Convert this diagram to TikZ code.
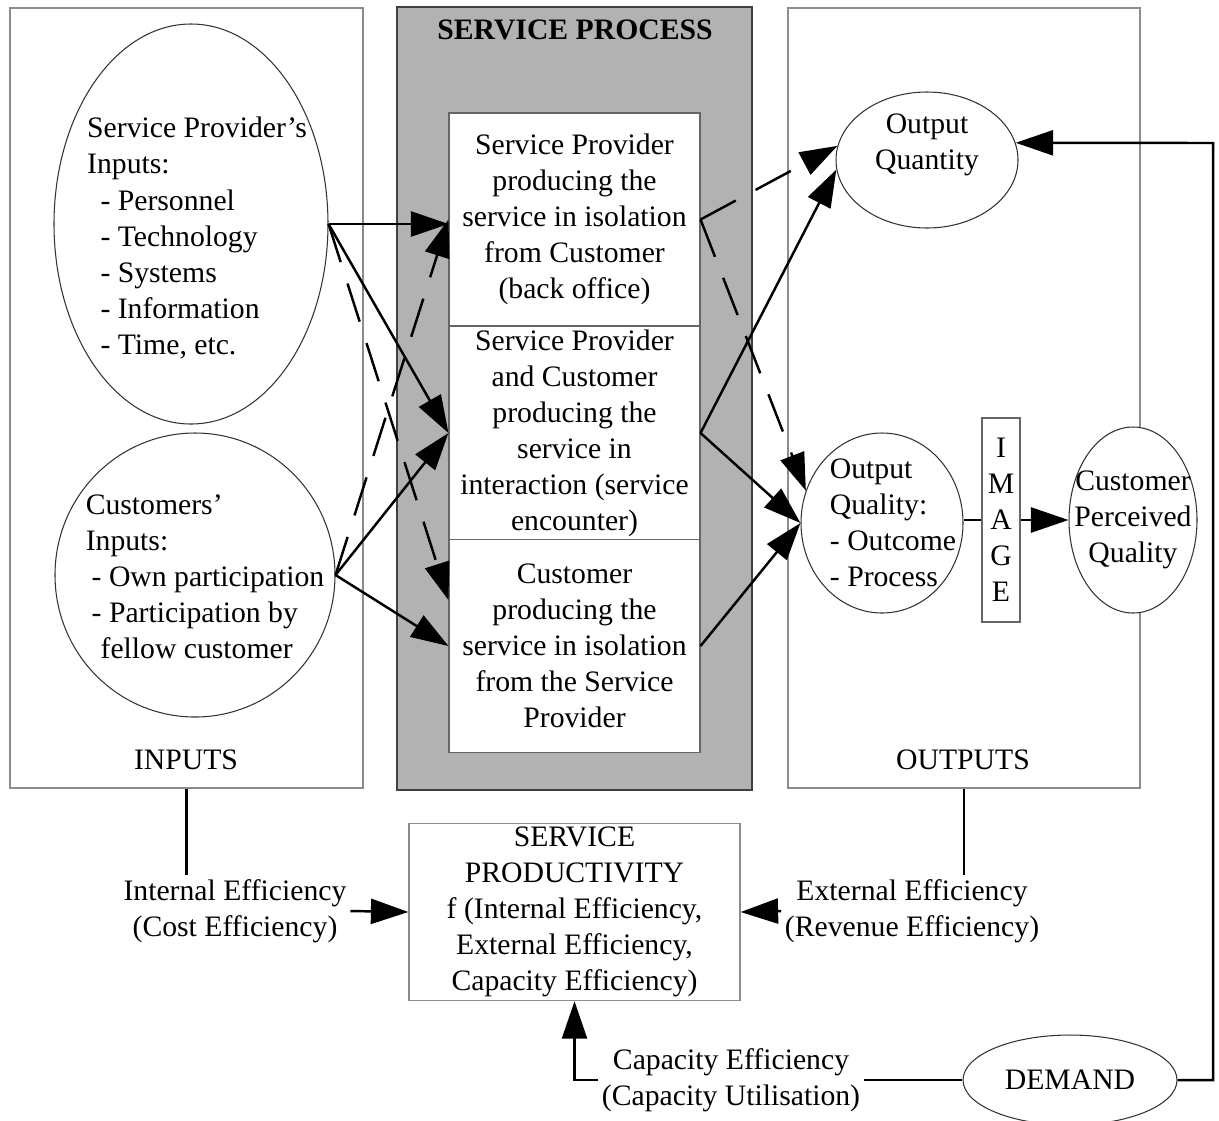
\documentclass[tikz,border=0pt]{standalone}
\usepackage{fontspec}
\setmainfont{Liberation Serif}
\usetikzlibrary{arrows.meta}
\usetikzlibrary{shapes.geometric}
\usetikzlibrary{calc}

\begin{document}
\begin{tikzpicture}[x=0.02cm, y=-0.02cm,
  every node/.style={font=\fontsize{16.9}{20.5}\selectfont, inner sep=2pt},
  panel/.style={draw=black!45, line width=.6pt},
  procbox/.style={draw=black!75, fill=black!30, line width=1.3pt},
  stagebox/.style={draw=black!60, fill=white, line width=.6pt, align=center,
    minimum width=251*0.02cm, minimum height=213*0.02cm},
  oval/.style={ellipse, draw=black!80, fill=white, line width=.6pt, inner sep=0pt},
  flow/.style={line width=1.4pt, -{Triangle[length=0.75cm,width=0.5cm]}},
  dflow/.style={flow, dash pattern=on 0.8cm off 0.45cm},
  link/.style={line width=1.4pt}]
\useasboundingbox (0,0) rectangle (1219,1120);
\node[panel, minimum width=353*0.02cm, minimum height=780*0.02cm] (inpanel) at (186.5,398) {};
\node[panel, minimum width=352*0.02cm, minimum height=780*0.02cm] (outpanel) at (964,398) {};
\node[procbox, minimum width=355*0.02cm, minimum height=783*0.02cm] (proc) at (574.5,398.5) {};
\node (intitle) at (186,760) {INPUTS};
\node (outtitle) at (963,760) {OUTPUTS};
\node[font=\fontsize{16.9}{20.5}\selectfont\bfseries] (proctitle) at (575,30) {SERVICE PROCESS};
\foreach \n/\y/\t in {s1/219.5/{Service Provider\\producing the\\service in isolation\\from Customer\\(back office)},
  s2/433/{Service Provider\\and Customer\\producing the\\service in\\interaction (service\\encounter)},
  s3/646/{Customer\\producing the\\service in isolation\\from the Service\\Provider}}
  \node[stagebox] (\n) at (574.5,\y) {\t};
\node[oval, minimum width=274*0.02cm, minimum height=400*0.02cm] (spin) at (191,224) {};
\node[align=left] (sptext) at (197,238) {Service Provider’s\\Inputs:\\\hspace*{.45em}- Personnel\\\hspace*{.45em}- Technology\\\hspace*{.45em}- Systems\\\hspace*{.45em}- Information\\\hspace*{.45em}- Time, etc.};
\node[oval, minimum width=280*0.02cm, minimum height=284*0.02cm] (cin) at (195,575) {};
\node[align=left] (ctext) at (205,577) {Customers’\\Inputs:\\\hspace*{.2em}- Own participation\\\hspace*{.2em}- Participation by\\\hspace*{.5em}fellow customer};
\node[oval, minimum width=182*0.02cm, minimum height=136*0.02cm] (oqty) at (927,160) {};
\node[align=center] (oqtytext) at (927,145) {Output\\Quantity};
\node[oval, minimum width=162*0.02cm, minimum height=180*0.02cm] (oql) at (882,523) {};
\node[align=left] (oqltext) at (893,523) {Output\\Quality:\\- Outcome\\- Process};
\node[draw=black!60, fill=white, line width=.6pt, align=center, minimum width=38*0.02cm, minimum height=204*0.02cm, inner sep=0pt] (img) at (1001,520) {I\\M\\A\\G\\E};
\node[oval, minimum width=128*0.02cm, minimum height=186*0.02cm] (cpq) at (1133,520) {};
\node[align=center] (cpqtext) at (1133,520) {Customer\\Perceived\\Quality};
\node[draw=black!45, line width=.7pt, align=center, minimum width=331*0.02cm, minimum height=177*0.02cm] (prod) at (574.5,912) {SERVICE\\PRODUCTIVITY\\f (Internal Efficiency,\\External Efficiency,\\Capacity Efficiency)};
\node[align=center] (ieff) at (235,911) {Internal Efficiency\\(Cost Efficiency)};
\node[align=center] (eeff) at (912,911) {External Efficiency\\(Revenue Efficiency)};
\node[align=center] (capl) at (731,1080) {Capacity Efficiency\\(Capacity Utilisation)};
\node[oval, minimum width=214*0.02cm, minimum height=90*0.02cm] (demand) at (1070,1080) {DEMAND};
\coordinate (fb) at (1213,143);
\draw[flow] (spin.east) -- (spin.east -| s1.west);
\draw[flow] (spin.east) -- (s2.west);
\draw[dflow] (spin.east) -- (s3.160);
\draw[flow] (cin.east) -- (s2.west);
\draw[flow] (cin.east) -- (s3.west);
\draw[dflow] (cin.east) -- (s1.west);
\draw[dflow] (s1.east) -- (oqty.171);
\draw[dflow] (s1.east) -- (oql.157);
\draw[flow] (s2.east) -- (oqty.186);
\draw[flow] (s2.east) -- (oql.west);
\draw[flow] (s3.east) -- (oql.west);
\draw[link] (img.west) -- (oql.east |- img.west);
\draw[flow] (img.east) -- (cpq.west);
\draw[link] (inpanel.south) -- (inpanel.south |- ieff.north);
\draw[flow] (ieff.east) -- (prod.west);
\draw[link] (outpanel.south) -- (outpanel.south |- eeff.north);
\draw[flow] (eeff.west) -- (prod.east);
\draw[flow] (capl.west) -| (prod.south);
\draw[link] (capl.east) -- (demand.west);
\draw[flow] (demand.east) -| (fb) -- (oqty.11);
\end{tikzpicture}
\end{document}
